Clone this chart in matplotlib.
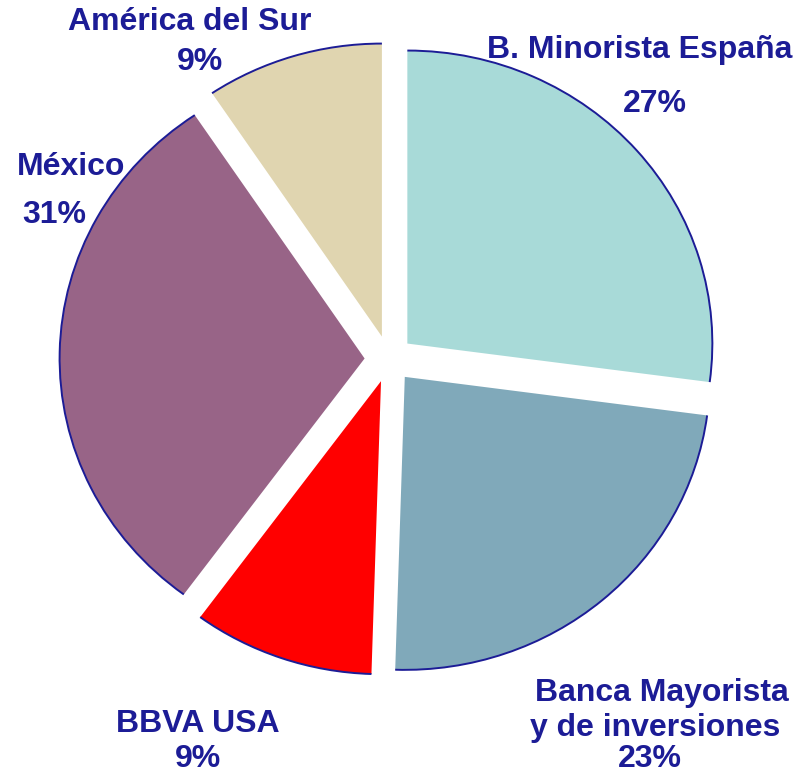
import matplotlib.pyplot as plt
from matplotlib.patches import Arc

# segments clockwise from 12 o'clock
segments = ['B. Minorista España', 'Banca Mayorista\ny de inversiones', 'BBVA USA', 'México', 'América del Sur']
shares = [27.1, 23.4, 9.6, 30.5, 9.4]   # angular share
pct_labels = ['27%', '23%', '9%', '31%', '9%']
colors = ['#A8DAD8', '#80A9BA', '#FF0000', '#986487', '#E0D5B0']
navy = '#1C1C96'

plt.rcParams['font.family'] = ['Liberation Sans', 'DejaVu Sans']

fig = plt.figure(figsize=(8, 7.76), dpi=100)
ax = fig.add_axes([0, 0, 1, 1])

wedges, _ = ax.pie(shares, colors=colors, startangle=90, counterclock=False,
                   explode=[0.08] * len(shares), radius=1.0,
                   wedgeprops=dict(linewidth=0))

# outline only the outer rim of each slice
for w in wedges:
    ax.add_patch(Arc(w.center, 2 * w.r, 2 * w.r, theta1=w.theta1, theta2=w.theta2,
                     color=navy, lw=1.4, zorder=3))

# slight horizontal stretch like the original
ax.set_aspect('auto')
ax.set_xlim(-389 / 305, (800 - 389) / 305)
ax.set_ylim(-(776 - 359) / 293, 359 / 293)
ax.axis('off')

def fx(px):
    return px / 800

def fy(py):
    return 1 - py / 776

style = dict(color=navy, fontsize=23, fontweight='bold', va='center')

fig.text(fx(640), fy(50), segments[0], ha='center', **style)
fig.text(fx(655), fy(104), pct_labels[0], ha='center', **style)

fig.text(fx(662), fy(693), 'Banca Mayorista', ha='center', **style)
fig.text(fx(655), fy(728), 'y de inversiones', ha='center', **style)
fig.text(fx(650), fy(759), pct_labels[1], ha='center', **style)

fig.text(fx(198), fy(724), segments[2], ha='center', **style)
fig.text(fx(198), fy(759), pct_labels[2], ha='center', **style)

fig.text(fx(17), fy(167), segments[3], ha='left', **style)
fig.text(fx(22), fy(215), pct_labels[3], ha='left', **style)

fig.text(fx(190), fy(22), segments[4], ha='center', **style)
fig.text(fx(200), fy(62), pct_labels[4], ha='center', **style)

fig.savefig('out.png', dpi=100)
